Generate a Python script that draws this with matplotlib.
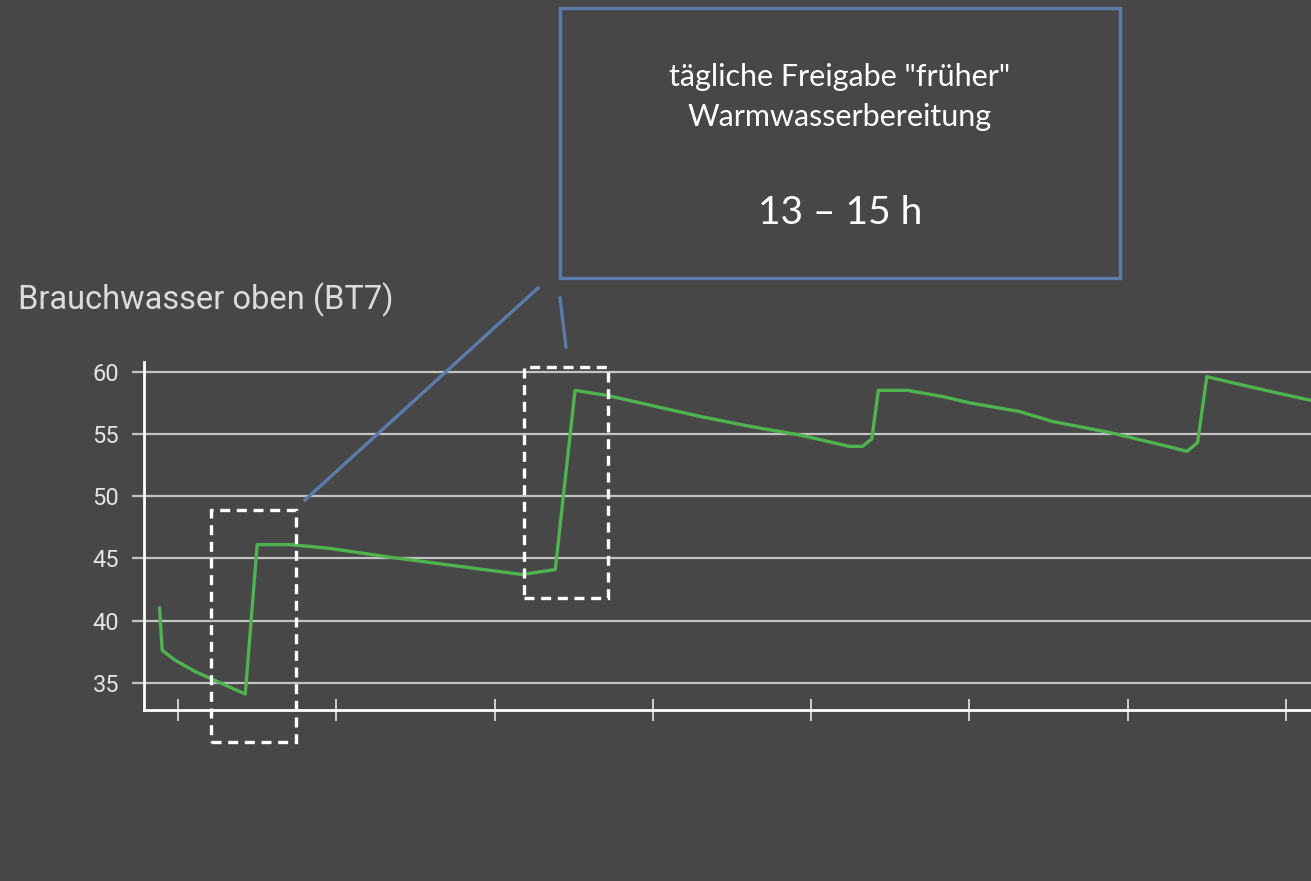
import matplotlib
matplotlib.use("Agg")
import matplotlib.pyplot as plt
from matplotlib.patches import Rectangle
from matplotlib.lines import Line2D

plt.rcParams["font.family"] = ["Roboto", "DejaVu Sans"]

# Brauchwasser oben (BT7) - Stunden ab Start, Temperatur in °C
hours = [6.6, 6.8, 7.8, 9.3, 11.6, 13.1, 14.0, 16.5, 19.5, 24.0, 29.0, 34.1, 36.6,
         38.1, 40.5, 43.0, 47.6, 51.4, 55.2, 58.9, 59.9, 60.6, 61.1,
         63.3, 66.0, 68.0, 71.8, 74.3, 78.7, 83.0, 84.5, 85.3, 86.0,
         88.0, 91.3, 93.9]
temps = [41.0, 37.6, 36.8, 35.9, 34.8, 34.1, 46.1, 46.1, 45.8, 45.1, 44.4, 43.7, 44.1,
         58.5, 58.1, 57.5, 56.4, 55.6, 54.9, 54.0, 54.0, 54.6, 58.5,
         58.5, 58.0, 57.5, 56.8, 56.0, 55.1, 54.0, 53.6, 54.3, 59.6,
         59.1, 58.3, 57.7]

y_ticks = [35, 40, 45, 50, 55, 60]
x_ticks = [8, 20, 32, 44, 56, 68, 80, 92]

title = "Brauchwasser oben (BT7)"
box_lines = ['tägliche Freigabe "früher"', "Warmwasserbereitung"]
box_time = "13 – 15 h"

bg = "#474747"
W, H = 1311, 881


def px(x, y):
    # Pixel (oben links) -> Figure-Koordinaten
    return x / W, 1 - y / H


fig = plt.figure(figsize=(W / 100, H / 100), dpi=100, facecolor=bg)
ax = fig.add_axes([144 / W, 1 - 710 / H, 1 - 144 / W, (710 - 362) / H])
ax.set_facecolor(bg)

ax.plot(hours, temps, color="#4fb34f", lw=2.4, solid_joinstyle="round", zorder=3)

ax.set_xlim(5.42, 93.9)
ax.set_ylim(32.81, 60.78)
ax.set_yticks(y_ticks)
ax.set_xticks(x_ticks)
ax.set_xticklabels([])
ax.grid(axis="y", color="#c4c4c4", lw=1.6)
ax.set_axisbelow(True)

for s in ["top", "right"]:
    ax.spines[s].set_visible(False)
for s in ["left", "bottom"]:
    ax.spines[s].set_color("white")
    ax.spines[s].set_linewidth(2)

ax.tick_params(axis="y", length=9, width=1.6, color="#c4c4c4", pad=9,
               labelsize=17, labelcolor="#e4e4e4")
ax.tick_params(axis="x", direction="inout", length=16, width=1.4, color="#d0d0d0")

fig.text(*px(18, 300), title, fontsize=23.5, color="#dcdcdc", family="Roboto",
         ha="left", va="center")

# gestrichelte Markierungen
for (x0, y0, x1, y1) in [(211, 510, 296, 742), (524, 367, 608, 598)]:
    fx0, fy1 = px(x0, y1)
    fx1, fy0 = px(x1, y0)
    fig.add_artist(Rectangle((fx0, fy1), fx1 - fx0, fy0 - fy1, transform=fig.transFigure,
                             fill=False, ec="white", lw=2.4, ls=(0, (3, 2)), zorder=5))

# Hinweisbox
blue = "#5b7cab"
bx0, by1 = px(560, 278)
bx1, by0 = px(1120, 8)
fig.add_artist(Rectangle((bx0, by1), bx1 - bx0, by0 - by1, transform=fig.transFigure,
                         facecolor=bg, ec=blue, lw=2.4, zorder=5))
for (xa, ya, xb, yb) in [(305, 500, 538, 288), (560, 298, 566, 347)]:
    (fa, ga), (fb, gb) = px(xa, ya), px(xb, yb)
    fig.add_artist(Line2D([fa, fb], [ga, gb], transform=fig.transFigure,
                          color=blue, lw=2.4, zorder=5))

fig.text(*px(840, 77), box_lines[0], fontsize=22, color="white", family="Lato",
         ha="center", va="center", zorder=6)
fig.text(*px(840, 117), box_lines[1], fontsize=22, color="white", family="Lato",
         ha="center", va="center", zorder=6)
fig.text(*px(840, 213), box_time, fontsize=28, color="white", family="Lato",
         ha="center", va="center", zorder=6)

fig.savefig("out.png", dpi=100, facecolor=bg)
